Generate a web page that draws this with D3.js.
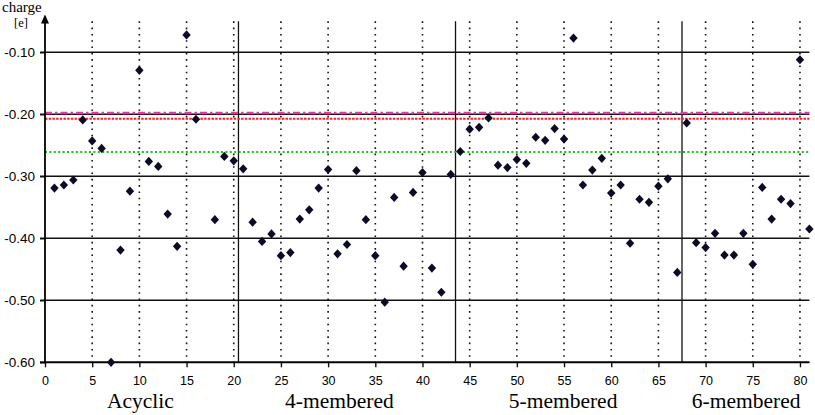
<!DOCTYPE html>
<html>
<head>
<meta charset="utf-8">
<script src="https://cdn.jsdelivr.net/npm/d3@7"></script>
<style>
  html, body { margin: 0; padding: 0; background: #fff; }
  svg { display: block; }
</style>
</head>
<body>
<svg id="chart" width="815" height="415"></svg>
<script>
// ---------- DATA ----------
const compoundIndex = d3.range(1, 82);
const charges = [
  -0.319, -0.314, -0.306, -0.209, -0.243, -0.255, -0.600, -0.419, -0.324, -0.129,
  -0.276, -0.284, -0.361, -0.413, -0.072, -0.208, null,   -0.370, -0.268, -0.275,
  -0.288, -0.374, -0.405, -0.393, -0.428, -0.423, -0.369, -0.354, -0.319, -0.289,
  -0.425, -0.410, -0.291, -0.370, -0.428, -0.503, -0.334, -0.445, -0.326, -0.294,
  -0.448, -0.487, -0.297, -0.260, -0.224, -0.221, -0.206, -0.282, -0.286, -0.273,
  -0.279, -0.237, -0.242, -0.223, -0.240, -0.077, -0.314, -0.290, -0.271, -0.327,
  -0.314, -0.408, -0.337, -0.342, -0.316, -0.304, -0.455, -0.214, -0.407, -0.415,
  -0.392, -0.427, -0.427, -0.392, -0.442, -0.318, -0.369, -0.337, -0.344, -0.112,
  -0.385
];
const yTickValues = [-0.10, -0.20, -0.30, -0.40, -0.50, -0.60];
const xTickValues = d3.range(0, 81, 5);
const groupBoundaries = [20.5, 43.5, 67.5];
const groupNames = ["Acyclic", "4-membered", "5-membered", "6-membered"];
const groupLabelCenters = [10.1, 31.2, 54.9, 74.3];
const refLineValues = [-0.198, -0.207, -0.261];
const refLineNames = ["magenta", "red", "green"];

// ---------- SCALES ----------
const svg = d3.select("#chart");
const x = d3.scaleLinear().domain([0, 81]).range([45, 809.4]);
const y = d3.scaleLinear().domain([-0.6, -0.1]).range([362.3, 52.3]);
const yTop = y(-0.05);

// vertical dotted grid lines
svg.append("g").selectAll("line")
  .data(xTickValues.filter(d => d > 0))
  .join("line")
  .attr("x1", d => x(d)).attr("x2", d => x(d))
  .attr("y1", yTop).attr("y2", y(-0.6))
  .attr("stroke", "#111").attr("stroke-width", 1.6)
  .attr("stroke-dasharray", "1.6,4.7");

// horizontal solid grid lines
svg.append("g").selectAll("line")
  .data(yTickValues)
  .join("line")
  .attr("x1", 40).attr("x2", x(81))
  .attr("y1", d => y(d)).attr("y2", d => y(d))
  .attr("stroke", "#111").attr("stroke-width", 1.4);

// group separators
svg.append("g").selectAll("line")
  .data(groupBoundaries)
  .join("line")
  .attr("x1", d => x(d)).attr("x2", d => x(d))
  .attr("y1", yTop).attr("y2", y(-0.6))
  .attr("stroke", "#111").attr("stroke-width", 1.3);

// reference lines
const refStyles = {
  magenta: { color: "#e8359f", width: 2.6, dash: "7,3,2.5,3" },
  red: { color: "#ff1e1e", width: 2.0, dash: "2.5,1.2" },
  green: { color: "#1fbf1f", width: 2.0, dash: "2,2.4" }
};
svg.append("g").selectAll("line")
  .data(refLineValues.map((v, i) => ({ v, name: refLineNames[i] })))
  .join("line")
  .attr("x1", x(0)).attr("x2", x(81))
  .attr("y1", d => y(d.v)).attr("y2", d => y(d.v))
  .attr("stroke", d => refStyles[d.name].color)
  .attr("stroke-width", d => refStyles[d.name].width)
  .attr("stroke-dasharray", d => refStyles[d.name].dash);

// y axis
const yAxis = d3.axisLeft(y).tickValues(yTickValues).tickSize(5)
  .tickFormat(d => d.toFixed(2));
const gy = svg.append("g").attr("transform", `translate(${x(0)},0)`).call(yAxis);
gy.select(".domain").remove();
gy.selectAll(".tick line").attr("stroke", "#111").attr("stroke-width", 1.4);
gy.selectAll(".tick text")
  .attr("x", -10)
  .style("font-family", "Arial, 'Liberation Sans', sans-serif")
  .style("font-size", "13.5px").attr("fill", "#000");

// y axis line with arrow
svg.append("line")
  .attr("x1", x(0)).attr("x2", x(0))
  .attr("y1", y(-0.6)).attr("y2", y(-0.045))
  .attr("stroke", "#000").attr("stroke-width", 1.8);
const tipY = y(-0.044) - 3;
svg.append("path")
  .attr("d", `M${x(0)},${tipY} L${x(0) - 4},${tipY + 9} L${x(0) + 4},${tipY + 9} Z`)
  .attr("fill", "#000");

// x axis
const xAxis = d3.axisBottom(x).tickValues(xTickValues).tickSize(5).tickPadding(9);
const gx = svg.append("g").attr("transform", `translate(0,${y(-0.6)})`).call(xAxis);
gx.select(".domain").remove();
gx.selectAll(".tick line").attr("stroke", "#111").attr("stroke-width", 1.4);
gx.selectAll(".tick text")
  .style("font-family", "Arial, 'Liberation Sans', sans-serif")
  .style("font-size", "12.5px").attr("fill", "#000");
svg.append("line")
  .attr("x1", 40).attr("x2", x(81))
  .attr("y1", y(-0.6)).attr("y2", y(-0.6))
  .attr("stroke", "#000").attr("stroke-width", 1.8);

// data points (diamonds)
const pts = compoundIndex.map((c, i) => ({ c, v: charges[i] })).filter(d => d.v !== null);
svg.append("g").selectAll("path")
  .data(pts)
  .join("path")
  .attr("transform", d => `translate(${x(d.c)},${y(d.v)})`)
  .attr("d", "M0,-4.6 L4.2,0 L0,4.6 L-4.2,0 Z")
  .attr("fill", "#0b0b26");

// axis title
svg.append("text").attr("x", 2).attr("y", 12)
  .style("font-family", "'Liberation Serif', 'Times New Roman', serif")
  .style("font-size", "15px").text("charge");
svg.append("text").attr("x", 14).attr("y", 27)
  .style("font-family", "'Liberation Serif', 'Times New Roman', serif")
  .style("font-size", "12.5px").text("[e]");

// group labels
svg.append("g").selectAll("text")
  .data(groupNames.map((n, i) => ({ n, c: groupLabelCenters[i] })))
  .join("text")
  .attr("x", d => x(d.c)).attr("y", 408)
  .attr("text-anchor", "middle")
  .style("font-family", "'Liberation Serif', 'Times New Roman', serif")
  .style("font-size", "21.5px")
  .text(d => d.n);
</script>
</body>
</html>
